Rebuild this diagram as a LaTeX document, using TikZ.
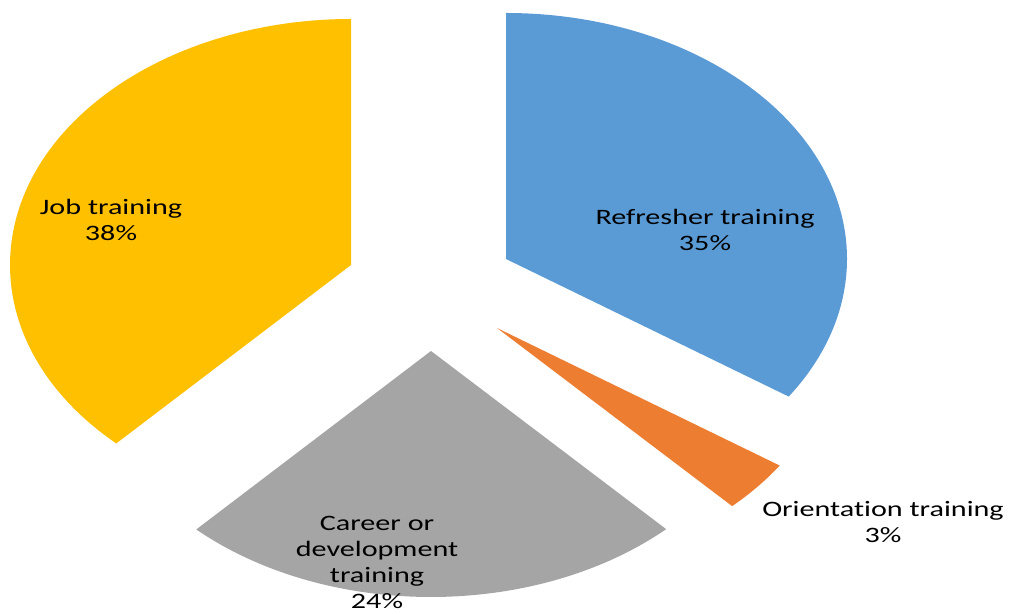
\documentclass[tikz,border=0pt]{standalone}
\usepackage{fontspec}
\setmainfont{Carlito}[Ligatures=NoCommon]
\usetikzlibrary{calc}
\definecolor{pieblue}{HTML}{5B9BD5}
\definecolor{pieorange}{HTML}{ED7D31}
\definecolor{piegray}{HTML}{A5A5A5}
\definecolor{pieyellow}{HTML}{FFC000}
\begin{document}
\begin{tikzpicture}[x=1pt,y=1pt,
  lbl/.style={align=center, font=\fontsize{22}{26}\selectfont, xscale=1.37, inner sep=0pt, text=black}]
\useasboundingbox (0,0) rectangle (1011,613);
% slice vertices (exploded)
\coordinate (vB) at (506,354);
\coordinate (vO) at (497,285);
\coordinate (vG) at (431,262);
\coordinate (vY) at (351,348);
% slices
\fill[pieblue] (vB) -- ($(vB)+(90:341pt and 246pt)$) arc[start angle=90,end angle=-34,x radius=341pt,y radius=246pt] -- cycle;
\fill[pieorange] (vO) -- ($(vO)+(-34:341pt and 246pt)$) arc[start angle=-34,end angle=-46.4,x radius=341pt,y radius=246pt] -- cycle;
\fill[piegray] (vG) -- ($(vG)+(-46.4:341pt and 246pt)$) arc[start angle=-46.4,end angle=-133.5,x radius=341pt,y radius=246pt] -- cycle;
\fill[pieyellow] (vY) -- ($(vY)+(-133.5:341pt and 246pt)$) arc[start angle=-133.5,end angle=-270,x radius=341pt,y radius=246pt] -- cycle;
% labels
\node[lbl] (lY) at (111,393) {Job training\\38\%};
\node[lbl] (lB) at (705,383) {Refresher training\\35\%};
\node[lbl] (lO) at (883,91) {Orientation training\\3\%};
\node[lbl] (lG) at (377,51) {Career or\\development\\training\\24\%};
\end{tikzpicture}
\end{document}
